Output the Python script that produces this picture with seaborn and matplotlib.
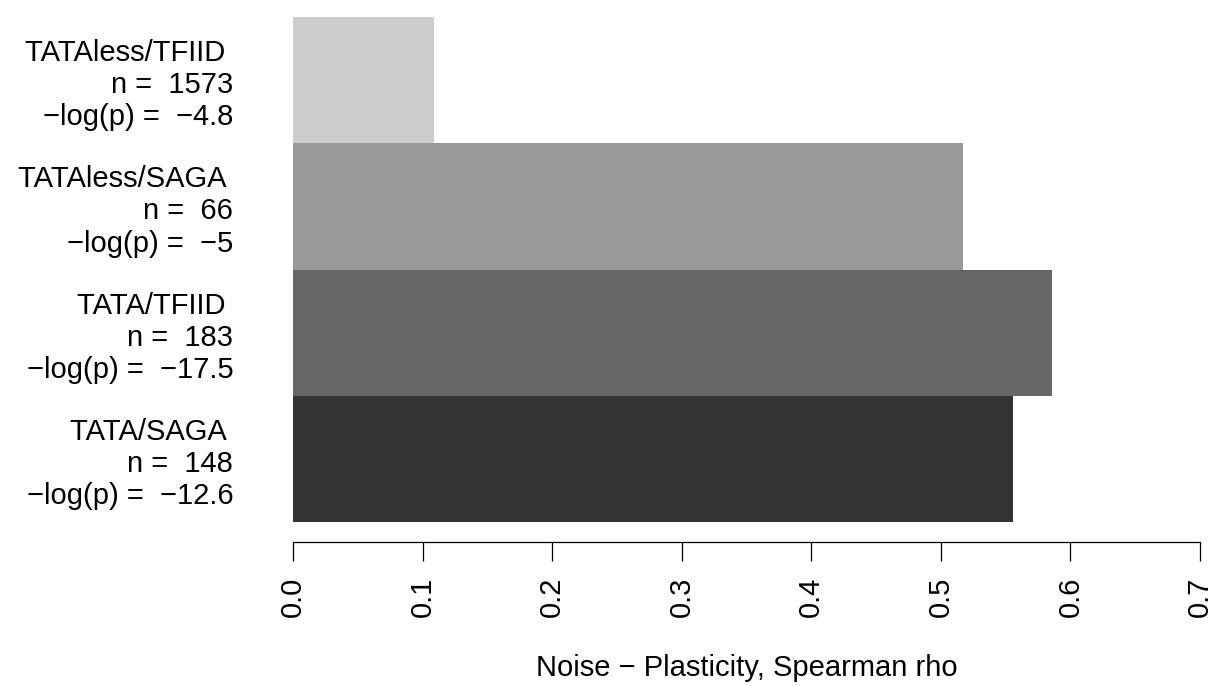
import matplotlib
matplotlib.use('Agg')
import matplotlib.pyplot as plt
import seaborn as sns
import pandas as pd

# values
groups = ['TATAless/TFIID', 'TATAless/SAGA', 'TATA/TFIID', 'TATA/SAGA']
n_genes = [1573, 66, 183, 148]
neg_log_p = ['\u22124.8', '\u22125', '\u221217.5', '\u221212.6']
rho = [0.109, 0.517, 0.586, 0.556]
bar_colors = ['#CCCCCC', '#999999', '#666666', '#333333']
x_ticks = [0.0, 0.1, 0.2, 0.3, 0.4, 0.5, 0.6, 0.7]

sns.set_theme(style='white')
plt.rcParams['font.family'] = ['Liberation Sans', 'DejaVu Sans']

df = pd.DataFrame({'group': groups, 'rho': rho})

W, H = 1216, 686
fig = plt.figure(figsize=(W / 100, H / 100), dpi=100)
ax = fig.add_axes([293 / W, 1 - 522 / H, (1200 - 293) / W, (522 - 17) / H])

sns.barplot(data=df, x='rho', y='group', hue='group', palette=bar_colors,
            order=groups, width=1.0, legend=False, saturation=1, ax=ax,
            edgecolor='none', linewidth=0)

ax.set_xlim(0, 0.7)
ax.set_ylim(3.5, -0.5)

# R-style detached x axis (set before tick labels, it resets ticks)
for s in ['top', 'right', 'left']:
    ax.spines[s].set_visible(False)
ax.spines['bottom'].set_position(('outward', 14.4))
ax.spines['bottom'].set_bounds(0, 0.7)
ax.spines['bottom'].set_color('black')
ax.spines['bottom'].set_linewidth(0.9)

# y labels: name / n / -log(p), right aligned
labels = [f'{g} \nn =  {n}\n\u2212log(p) =  {p}'
          for g, n, p in zip(groups, n_genes, neg_log_p)]
ax.set_yticks(range(len(groups)))
ax.set_yticklabels(labels, fontsize=21, ha='right', linespacing=1.19, color='black')
ax.tick_params(axis='y', length=0, pad=43)

ax.set_xticks(x_ticks)
ax.set_xticklabels([f'{t:.1f}' for t in x_ticks], rotation=90, fontsize=21, color='black')
ax.tick_params(axis='x', length=13.5, width=0.9, color='black', pad=11.5, bottom=True)

ax.set_ylabel('')
ax.set_xlabel('')
fig.text((293 + 1200) / 2 / W, 1 - 668 / H, 'Noise \u2212 Plasticity, Spearman rho',
         ha='center', va='center', fontsize=21, color='black')

fig.savefig('out.png', dpi=100, facecolor='white')
